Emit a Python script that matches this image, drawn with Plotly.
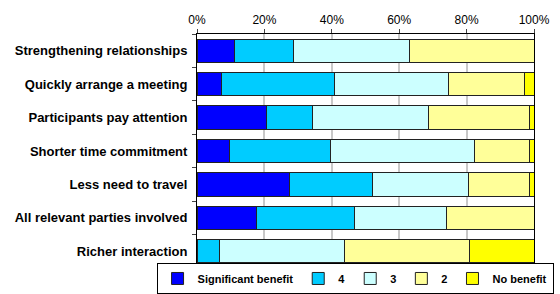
import plotly.graph_objects as go

categories = ["Strengthening relationships", "Quickly arrange a meeting", "Participants pay attention",
              "Shorter time commitment", "Less need to travel", "All relevant parties involved",
              "Richer interaction"]
series_names = ["Significant benefit", "4", "3", "2", "No benefit"]
significant = [11.0, 7.2, 20.6, 9.5, 27.4, 17.8, 0.0]
four = [17.6, 33.6, 13.7, 30.1, 24.7, 28.8, 6.8]
three = [34.4, 33.8, 34.3, 42.6, 28.6, 27.4, 37.0]
two = [37.0, 22.6, 30.0, 16.4, 17.9, 26.0, 37.0]
no_benefit = [0.0, 2.8, 1.4, 1.4, 1.4, 0.0, 19.2]
colors = ["#0000FF", "#00CCFF", "#CCFFFF", "#FFFF99", "#FFFF00"]

fig = go.Figure()
for name, vals, col in zip(series_names, [significant, four, three, two, no_benefit], colors):
    fig.add_trace(go.Bar(y=categories, x=vals, name=name, orientation="h",
                         marker=dict(color=col, line=dict(color="#222222", width=1))))

fig.update_layout(
    barmode="stack", bargap=0.3,
    width=560, height=294,
    margin=dict(l=197, r=26, t=34, b=26, autoexpand=False),
    plot_bgcolor="white", paper_bgcolor="white",
    font=dict(family="Arial", size=11, color="black"),
    legend=dict(orientation="h", x=-0.12, xanchor="left",
                y=-0.111, yanchor="bottom",
                bordercolor="black", borderwidth=1, font=dict(size=11, weight="bold"),
                traceorder="normal", itemwidth=30, tracegroupgap=0),
    xaxis=dict(side="top", range=[0, 100], dtick=20, ticksuffix="%", ticks="outside", ticklen=4,
               showgrid=True, gridcolor="#c8c8c8", gridwidth=2, showline=True, mirror=True,
               linecolor="black", linewidth=1, zeroline=False, tickfont=dict(size=12),
               automargin=False),
    yaxis=dict(autorange="reversed", ticks="outside", ticklen=4, tickson="boundaries",
               ticklabelstandoff=6,
               showline=True, mirror=True, linecolor="black", linewidth=1, showgrid=False,
               tickfont=dict(size=13, weight="bold"), automargin=False),
)
fig.write_html("out.html", config={"displayModeBar": False},
               post_script="document.body.style.margin='0';document.body.style.overflow='hidden';")
